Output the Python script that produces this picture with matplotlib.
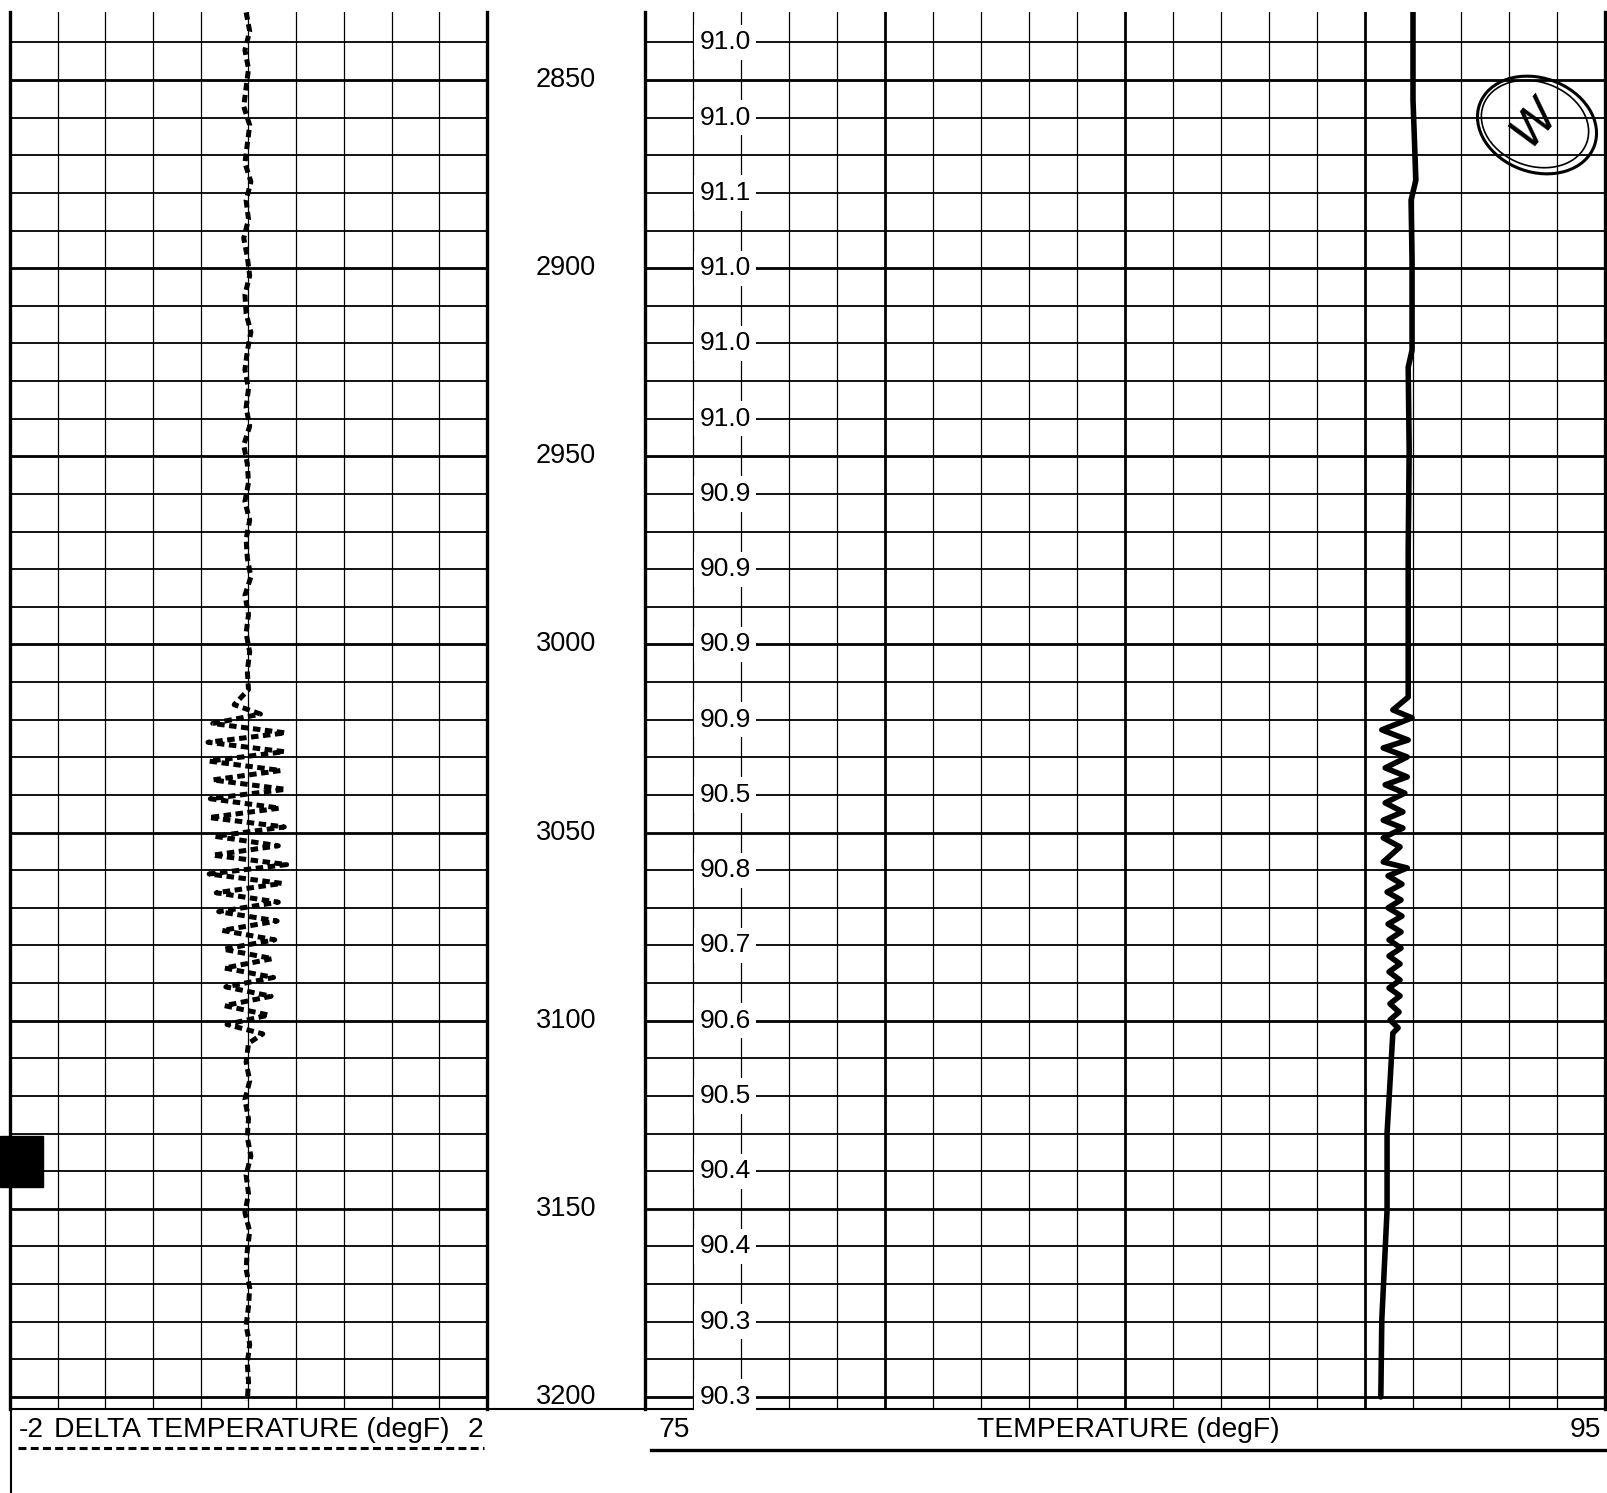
import matplotlib.pyplot as plt
from matplotlib.patches import Ellipse, Rectangle
from matplotlib.transforms import blended_transform_factory

plt.rcParams['font.family'] = ['Liberation Sans', 'DejaVu Sans']

# ==========================================================
# 1. Data
# ==========================================================
depth_top, depth_bot = 2831.9, 3203.2

depth_labels = [2850, 2900, 2950, 3000, 3050, 3100, 3150, 3200]

# temperature readout printed every 20 ft
readout_depth = [2840, 2860, 2880, 2900, 2920, 2940, 2960, 2980, 3000, 3020,
                 3040, 3060, 3080, 3100, 3120, 3140, 3160, 3180, 3200]
readout_text = ['91.0', '91.0', '91.1', '91.0', '91.0', '91.0', '90.9', '90.9', '90.9', '90.9',
                '90.5', '90.8', '90.7', '90.6', '90.5', '90.4', '90.4', '90.3', '90.3']

# temperature curve (degF)
temp_depth = [2831.9, 2855.3, 2876.6, 2881.9, 2897.8, 2921.8, 2926.3, 2948.3, 2974.9, 3014.0,
              3017.4, 3019.5, 3022.7, 3025.4, 3027.5, 3029.9, 3032.8, 3035.2, 3037.3, 3039.5,
              3042.1, 3044.5, 3046.7, 3048.8, 3051.4, 3053.8, 3057.8, 3059.4, 3061.5, 3063.7,
              3065.8, 3067.9, 3070.0, 3072.2, 3074.3, 3076.4, 3078.5, 3080.7, 3082.8, 3084.9,
              3087.0, 3089.2, 3091.3, 3093.4, 3095.5, 3097.7, 3099.8, 3101.9, 3103.3, 3121.1,
              3129.8, 3150.3, 3160.9, 3179.5, 3200.0]
temp_val = [91.00, 91.00, 91.06, 90.96, 90.98, 90.98, 90.90, 90.92, 90.90, 90.90,
            90.58, 90.98, 90.35, 90.90, 90.38, 90.88, 90.42, 90.88, 90.42, 90.83,
            90.42, 90.79, 90.38, 90.79, 90.38, 90.73, 90.38, 90.88, 90.48, 90.77,
            90.46, 90.75, 90.48, 90.77, 90.48, 90.75, 90.50, 90.75, 90.50, 90.73,
            90.50, 90.73, 90.50, 90.73, 90.52, 90.71, 90.52, 90.69, 90.58, 90.50,
            90.46, 90.46, 90.42, 90.35, 90.33]

# delta temperature curve (degF)
delta_depth = [2832, 2837, 2842, 2847, 2852, 2857, 2862, 2867, 2872, 2877,
               2882, 2887, 2892, 2897, 2902, 2907, 2912, 2917, 2922, 2927,
               2932, 2937, 2942, 2947, 2952, 2957, 2962, 2967, 2972, 2977,
               2982, 2987, 2992, 2997, 3002, 3007, 3012,
               3016, 3018.5, 3021, 3023.5, 3026, 3028.5, 3031, 3033.5, 3036, 3038.5,
               3041, 3043.5, 3046, 3048.5, 3051, 3053.5, 3056, 3058.5, 3061, 3063.5,
               3066, 3068.5, 3071, 3073.5, 3076, 3078.5, 3081, 3083.5, 3086, 3088.5,
               3091, 3093.5, 3096, 3098.5, 3101, 3103.5,
               3106, 3111, 3116, 3121, 3126, 3131, 3136, 3141, 3146, 3151,
               3156, 3161, 3166, 3171, 3176, 3181, 3186, 3191, 3196, 3201]
delta_val = [-0.02, 0.01, -0.03, 0.00, -0.02, -0.04, 0.01, -0.01, -0.03, 0.02,
             -0.02, 0.00, -0.04, -0.01, 0.01, -0.03, -0.02, 0.02, -0.01, -0.03,
             0.00, -0.02, 0.01, -0.04, -0.01, 0.00, -0.03, 0.01, -0.02, -0.01,
             0.02, -0.03, 0.00, -0.02, 0.01, -0.01, 0.00,
             -0.12, 0.10, -0.30, 0.31, -0.34, 0.30, -0.33, 0.27, -0.30, 0.31,
             -0.32, 0.26, -0.33, 0.30, -0.28, 0.25, -0.30, 0.32, -0.33, 0.28,
             -0.27, 0.25, -0.25, 0.24, -0.22, 0.22, -0.21, 0.20, -0.20, 0.21,
             -0.19, 0.19, -0.20, 0.17, -0.18, 0.12,
             0.00, -0.02, 0.01, -0.03, 0.00, -0.01, 0.02, -0.02, 0.00, -0.03,
             0.01, -0.01, -0.02, 0.01, 0.00, -0.02, 0.01, -0.01, 0.00, -0.01]

# ==========================================================
# 2. Figure layout (pixel based, 1607 x 1493)
# ==========================================================
W, H = 1607, 1493
fig = plt.figure(figsize=(W / 100, H / 100), dpi=100)
fig.patch.set_facecolor('white')

bottom = (H - 1409) / H
height = 1397 / H
ax_l = fig.add_axes([10 / W, bottom, 477 / W, height])
ax_m = fig.add_axes([487 / W, bottom, 158 / W, height])
ax_r = fig.add_axes([645 / W, bottom, 960 / W, height])

for ax in (ax_l, ax_m, ax_r):
    ax.set_ylim(depth_bot, depth_top)
    ax.set_xticks([])
    ax.set_yticks([])
ax_m.axis('off')

ax_l.set_xlim(-2, 2)
ax_r.set_xlim(75, 95)


def draw_grid(ax, xs, heavy_x):
    for d in range(2840, 3201, 10):
        lw = 2.0 if d % 50 == 0 else 1.3
        ax.axhline(d, color='k', lw=lw, zorder=1)
    for x in xs:
        lw = 2.0 if x in heavy_x else 0.9
        ax.axvline(x, color='k', lw=lw, zorder=1)
    for side in ('left', 'right'):
        ax.spines[side].set_linewidth(2.4)
    ax.spines['bottom'].set_linewidth(1.5)
    ax.spines['top'].set_visible(False)


draw_grid(ax_l, [-2 + 0.4 * k for k in range(1, 10)], [])
draw_grid(ax_r, list(range(76, 95)), [80, 85, 90])

# ==========================================================
# 3. Curves and labels
# ==========================================================
ax_l.plot(delta_val, delta_depth, color='k', lw=3.6, dashes=(1.5, 0.9), zorder=4)
ax_r.plot(temp_val, temp_depth, color='k', lw=4.0, zorder=6,
          solid_joinstyle='round', solid_capstyle='round')

for d, t in zip(readout_depth, readout_text):
    ax_r.text(76.67, d, t, ha='center', va='center', fontsize=19, zorder=5,
              bbox=dict(facecolor='white', edgecolor='none', pad=4))

tr = blended_transform_factory(ax_m.transAxes, ax_m.transData)
for d in depth_labels:
    ax_m.text(0.5, d, str(d), transform=tr, ha='center', va='center', fontsize=19.5)

# ==========================================================
# 4. Footer, stamp and scan marks (pixel overlay)
# ==========================================================
ax_o = fig.add_axes([0, 0, 1, 1], facecolor='none')
ax_o.set_xlim(0, W)
ax_o.set_ylim(H, 0)
ax_o.axis('off')

ax_o.plot([487, 645], [1409, 1409], color='k', lw=1.5)
ax_o.plot([11, 11], [1409, H], color='k', lw=1.5)

fs = 20.3
ax_o.text(19, 1430, '-2', ha='left', va='center', fontsize=fs)
ax_o.text(54, 1430, 'DELTA TEMPERATURE (degF)', ha='left', va='center', fontsize=fs)
ax_o.text(483, 1430, '2', ha='right', va='center', fontsize=fs)
ax_o.plot([18, 484], [1448, 1448], color='k', lw=2.2, dashes=(2.6, 1.4))

ax_o.text(659, 1430, '75', ha='left', va='center', fontsize=fs)
ax_o.text(1128, 1430, 'TEMPERATURE (degF)', ha='center', va='center', fontsize=fs)
ax_o.text(1601, 1430, '95', ha='right', va='center', fontsize=fs)
ax_o.plot([651, W], [1450, 1450], color='k', lw=2.4)

ax_o.add_patch(Rectangle((0, 1136), 43, 51, color='k'))

ax_o.add_patch(Ellipse((1537, 125), 122, 94, angle=20, fill=False, ec='k', lw=2.2))
ax_o.add_patch(Ellipse((1535, 124), 110, 84, angle=20, fill=False, ec='k', lw=1.2))
ax_o.text(1535, 122, 'W', rotation=50, ha='center', va='center', fontsize=34,
          fontstyle='italic', family='DejaVu Sans')

fig.savefig('out.png', dpi=100)
